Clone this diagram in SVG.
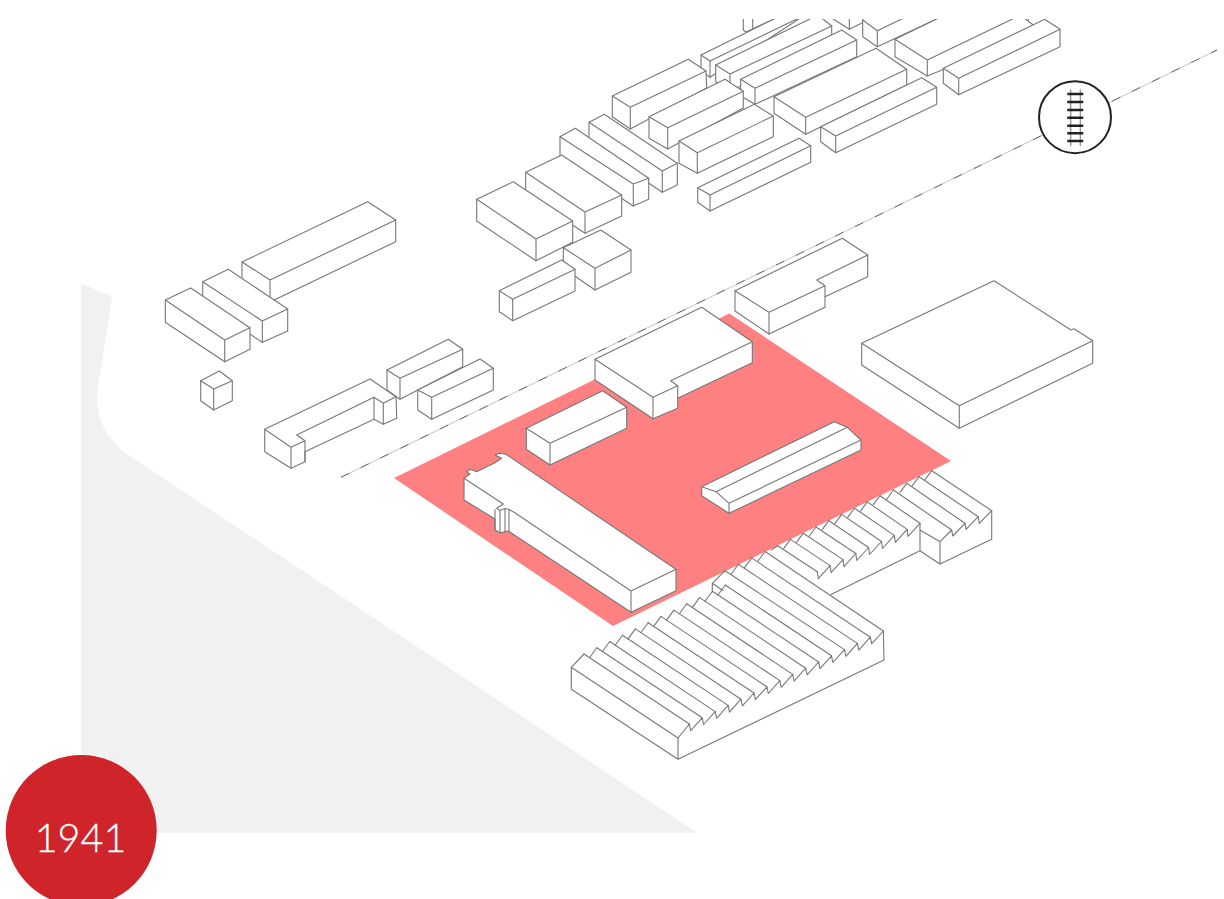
<svg xmlns="http://www.w3.org/2000/svg" width="1224" height="899" viewBox="0 0 1224 899">
<style>
.b polygon{fill:#fff;stroke:none}
.b path{fill:none;stroke:#777;stroke-width:1.1;stroke-linejoin:round;stroke-linecap:round}
.b polygon.o{stroke:#777;stroke-width:1.1;stroke-linejoin:round}
</style>
<rect width="1224" height="899" fill="#fff"/>
<path id="ground" d="M81,283.3 L112.3,296.7 L97.5,390 Q94,428 124,452 L697,832.7 L81,832.7 Z" fill="#f1f1f1"/>
<polygon id="site" points="394,478 729.3,313.5 951,461 613,626" fill="#ff8080"/>

<g id="connectors">
<line x1="341" y1="477.3" x2="1217" y2="50" stroke="#c4c4c4" stroke-width="1"/>
<line x1="341" y1="477.3" x2="1217" y2="50" stroke="#666" stroke-width="1" stroke-dasharray="9 13"/>
</g>

<g class="b">
<g id="stub-1"><polygon class="o" points="743.3,15 743.3,30 746,32 783,15"/><path d="M752.7,15V28"/></g>
<g id="stub-2"><polygon class="o" points="827,15 849.3,29.3 878,15"/><path d="M849.3,15V29.3"/></g>
<g id="stub-3"><path d="M1028.3,15V27"/></g>
<g id="top-b"><polygon class="o" points="862.7,15 862.7,36.7 877.3,46.7 945,15"/><path d="M862.7,20L877.3,30.7L910,15M877.3,30.7V46.7"/></g>
<g id="top-c"><polygon class="o" points="895,39.3 945,15 1020,15 1040,30 927.3,76 895,56.7"/><path d="M895,39.3L927.3,60L1021,15M927.3,60V76"/></g>
<g id="top-d"><polygon class="o" points="943.3,68.3 1044.7,19.3 1060,29.3 1060,46.7 958.7,94.7 943.3,83.3"/><path d="M943.3,68.3L958.7,78.3L1060,29.3M958.7,78.3V94.7"/></g>
<g id="top-e"><polygon class="o" points="701,55 782,15 805,15 710,77.3 701,70.7"/><path d="M701,55L710,61L805,15M710,61V77.3"/></g>
<g id="top-f"><polygon class="o" points="715.7,65 818,15 831.7,26 831.7,35 730,92 715.7,81.7"/><path d="M715.7,65L730,74L831.7,26M730,74V92"/></g>
<g id="top-g"><polygon class="o" points="740.7,79.3 841.7,30 856.7,40 856.7,56.7 755,104.3 740.7,96"/><path d="M740.7,79.3L755,88.3L856.7,40M755,88.3V104.3"/></g>
<g id="top-h"><polygon class="o" points="774,96.7 876,48.3 906.7,69.3 906.7,85 805.7,134.3 774,113.3"/><path d="M774,96.7L805.7,117.3L906.7,69.3M805.7,117.3V134.3"/></g>
<g id="top-i"><polygon class="o" points="820.7,126.7 921.7,77.7 936.7,87.3 936.7,104.3 835.7,152.7 820.7,141.7"/><path d="M820.7,126.7L835.7,136L936.7,87.3M835.7,136V152.7"/></g>
<g id="top-a"><polygon class="o" points="612.3,96 688.3,59.3 706,71 706.7,88 630.3,129 612.3,116.7"/><path d="M612.3,96L630.3,107.3L706,71M630.3,107.3V129"/></g>
<g id="top-j"><polygon class="o" points="649,116.7 725,79.3 743.3,91.3 743.3,108 667.7,149 649,138.3"/><path d="M649,116.7L667.7,127.7L743.3,91.3M667.7,127.7V149"/></g>
<g id="top-k"><polygon class="o" points="679,141 754.3,104.3 773.3,116 773.3,136.7 697.3,173.3 679,163.3"/><path d="M679,141L697.3,152.7L773.3,116M697.3,152.7V173.3"/></g>
<g id="top-l"><polygon class="o" points="697.7,187.7 799,138.3 810.7,145.7 810.7,162.3 710,211 697.7,202.3"/><path d="M697.7,187.7L710,195L810.7,145.7M710,195V211"/></g>
</g>
<rect x="690" y="0" width="400" height="19" fill="#fff"/>

<g class="b">
<g id="mid-p"><polygon class="o" points="589,122.3 604.3,114.3 677.3,163.3 677.3,185 662.3,192.3 589,143"/><path d="M589,122.3L662.3,171L677.3,163.3M662.3,171V192.3"/></g>
<g id="mid-o"><polygon class="o" points="560,136.7 575.3,128.3 648.7,178.3 648.7,199.3 633.3,206 560,158"/><path d="M560,136.7L633.3,184L648.7,178.3M633.3,184V206"/></g>
<g id="mid-n"><polygon class="o" points="525.7,172.3 561.7,155 621.7,195 621.7,216 585,233.3 525.7,194"/><path d="M525.7,172.3L585,212L621.7,195M585,212V233.3"/></g>
<g id="mid-m"><polygon class="o" points="476.7,199.3 513.3,181.7 572.7,221 572.7,242.3 536,260.7 476.7,221"/><path d="M476.7,199.3L536,239L572.7,221M536,239V260.7"/></g>
<g id="mid-q"><polygon class="o" points="563.3,247.7 600.7,230 631,250 631,272.3 595,290 563.3,268"/><path d="M563.3,247.7L595,268.3L631,250M595,268.3V290"/></g>
<g id="mid-r"><polygon class="o" points="499.3,290.7 561.7,260 575,269.3 575,291 512.7,320.7 499.3,311.7"/><path d="M499.3,290.7L512.7,299.3L575,269.3M512.7,299.3V320.7"/></g>

<g id="left-s"><polygon class="o" points="242,262 367.7,201.7 395.7,220 395.7,241.7 270,302 242,282"/><path d="M242,262L270,280L395.7,220M270,280V302"/></g>
<g id="left-t"><polygon class="o" points="202.7,281.7 228.3,269.3 287.7,309 287.7,331 262.3,342.3 202.7,303"/><path d="M202.7,281.7L262.3,321L287.7,309M262.3,321V342.3"/></g>
<g id="left-u"><polygon class="o" points="165.3,300 190.7,288 250,327.7 250,349.3 224.7,361.7 165.3,322.3"/><path d="M165.3,300L224.7,340L250,327.7M224.7,340V361.7"/></g>
<g id="left-cube"><polygon class="o" points="200.7,380.7 219.3,371 232.3,380.7 232.3,400.7 213.7,410 200.7,400.7"/><path d="M200.7,380.7L213.7,389L232.3,380.7M213.7,389V410"/></g>
<g id="left-v"><polygon class="o" points="387,370 448.3,339.3 462.7,349.3 462.7,366.7 400,399.3 387,390"/><path d="M387,370L400,378.3L462.7,349.3M400,378.3V399.3"/></g>
<g id="left-l"><polygon class="o" points="264.7,429.3 370,379 396,396.7 396.7,418.3 383.3,424.3 374,419.3 305,451.7 305,461.7 291,468.3 264.7,451.7"/><path d="M264.7,429.3L291,447.3L305,440.7L296.7,435L374,397.3L383.3,403.3L396,396.7M291,447.3V468.3M305,440.7V461.7M374,397.3V419.3M383.3,403.3V424.3"/></g>
<g id="left-w"><polygon class="o" points="417.7,390 480,359 493.3,368.3 493.3,390 431.7,419.3 417.7,410"/><path d="M417.7,390L431.7,397.3L493.3,368.3M431.7,397.3V419.3"/></g>

<g id="site-x"><polygon class="o" points="595,359.3 701.7,307.3 752.3,341.7 752.3,362.7 677.7,398.3 677.7,408.3 653,418.7 595,380"/><path d="M595,359.3L653,397.3L677.7,385.7L670.7,380.7L752.3,341.7M653,397.3V418.7M677.7,385.7V398.3"/></g>
<g id="site-y"><polygon class="o" points="526.3,428.3 602.7,390.7 626.7,407.3 626.7,428.3 550,465 526.3,449.3"/><path d="M526.3,428.3L550,443.3L626.7,407.3M550,443.3V465"/></g>
<g id="site-z"><polygon class="o" points="464,478.3 470,474 466.7,471.7 470.7,469.3 476.7,471.7 495,462.7 501.7,458.3 495,455 499.3,453.3 506,454.3 676,569.3 676,590.7 631,612.3 508.3,531 500,532.7 495,530 495,519 464,500"/><path d="M464,478.3L503.3,504L496.7,508.3L500,510.5L505,508.5L509,509.5L513.3,511.7L631,591L676,569.3M631,591V612.3M495,509.5V530M500,510.5V532.7M505,508.5V532M509,509.5V531"/></g>
<g id="site-aa"><polygon class="o" points="701.7,486.7 834.3,421.7 847.3,427.3 861,440 861,450 729,513.3 701.7,495.7"/><path d="M701.7,486.7L716,491.7L729,503.3L861,440M716,491.7L847.3,427.3M729,503.3V513.3"/></g>

<g id="east-bb"><polygon class="o" points="735,290.7 842.3,238.3 867.7,255 867.7,276.7 825,296.7 825,307.3 769,334 735,311"/><path d="M735,290.7L769,312.3L825,285.7L816.7,280L867.7,255M769,312.3V334M825,285.7V296.7"/></g>
<g id="east-cc"><polygon class="o" points="861.7,343.3 994,280.7 1071,330 1074,328.7 1092.7,340.7 1092.7,363.3 959.3,428.3 861.7,365"/><path d="M861.7,343.3L959.3,405.7L1092.7,340.7M959.3,405.7V428.3"/></g>

<g id="saw-upper">
<polygon points="777.7,545.7 790.5,539.4 803.3,533.2 816,527 828.9,520.7 841.7,514.4 854.5,508.2 867.3,501.9 880,495.7 886.6,499 893.3,490 899.9,492 906.7,483.3 912.3,485.7 919,476.7 925,479.7 931.7,470.7 991.7,510.7 991.7,539.3 940,564 920,550.7 830,595 760,590"/>
<path d="M831,594.5L920,550.7L940,564L991.7,539.3V510.7L979.3,523.3L978.3,516.7L966,529.3L965,523.3L952.7,536L951.7,530L940,541.7V564M920,523.3V550.7M920,530L940,541.7"/>
<path d="M817.3,571.7L818.3,578.7L830.1,565.6L831.1,572.6L843,559.6L844,566.6L855.8,553.5L856.8,560.5L868.6,547.5L869.6,554.5L881.5,541.5L882.5,548.5L894.3,535.4L895.3,542.4L907.1,529.4L908.1,536.4L920,523.3"/>
<path d="M777.7,545.7L817.3,571.7M790.5,539.4L830.1,565.6M803.3,533.2L843,559.6M816,527L855.8,553.5M828.9,520.7L868.6,547.5M841.7,514.4L881.5,541.5M854.5,508.2L894.3,535.4M867.3,501.9L907.1,529.4M880,495.7L920,523.3"/>
<path d="M893.3,490L951.7,530M906.7,483.3L965,523.3M919,476.7L978.3,516.7M931.7,470.7L991.7,510.7"/>
<path d="M771,550L777.7,545.7M783.8,548.4L790.5,539.4M796.6,542.2L803.3,533.2M809.3,536L816,527M822.2,529.7L828.9,520.7M835,523.4L841.7,514.4M847.8,517.2L854.5,508.2M860.6,510.9L867.3,501.9M873.3,504.7L880,495.7M886.6,499.5L893.3,490M900,492.3L906.7,483.3M912.3,485.7L919,476.7M925,479.7L931.7,470.7"/>
</g>

<g id="saw-lower">
<polygon points="571.3,667.3 584,654 589.5,657.7 596.8,647.7 602.4,651.5 609.7,641.5 615.2,645.2 622.5,635.2 628.1,638.9 635.4,628.9 640.9,632.7 648.2,622.7 653.7,626.4 661,616.4 666.6,620.1 673.9,610.1 679.4,613.8 686.7,603.8 692.3,607.6 699.6,597.6 705.1,601.3 712.3,592 712.3,583.3 725,570.7 731,574.3 738.3,564.3 744.4,567.9 751.7,557.9 757.7,561.5 765,551.5 883.3,631 884,660 678,759.3 571.3,689.3"/>
<path d="M571.3,667.3V689.3L678,759.3L884,660L883.3,631M571.3,667.3L678,738V759.3M571.3,667.3L584,654"/>
<path d="M678,738L689.3,724L690.7,730.7L702.2,717.8L703.6,724.5L715.2,711.6L716.6,718.3L728.1,705.4L729.5,712.1L741,699.2L742.4,705.9L754,693L755.4,699.7L766.9,686.8L768.3,693.5L779.8,680.6L781.2,687.3L792.7,674.4L794.1,681.1L805.7,668.2L807.1,674.9L818.6,662L820,668.7L831.5,655.8L832.9,662.5L844.5,649.6L845.9,656.3L857.4,643.4L858.8,650.1L870.3,637.2L871.7,643.9L883.3,631"/>
<path d="M584,654L689.3,724M596.8,647.7L702.2,717.8M609.7,641.5L715.2,711.6M622.5,635.2L728.1,705.4M635.4,628.9L741,699.2M648.2,622.7L754,693M661,616.4L766.9,686.8M673.9,610.1L779.8,680.6M686.7,603.8L792.7,674.4M699.6,597.6L805.7,668.2M712.4,591.3L818.6,662M725.2,585L831.5,655.8M725,570.7L844.5,649.6M738.3,564.3L857.4,643.4M751.7,557.9L870.3,637.2M765,551.5L883.3,631"/>
<path d="M589.5,657.7L596.8,647.7M602.4,651.5L609.7,641.5M615.2,645.2L622.5,635.2M628.1,638.9L635.4,628.9M640.9,632.7L648.2,622.7M653.7,626.4L661,616.4M666.6,620.1L673.9,610.1M679.4,613.8L686.7,603.8M692.3,607.6L699.6,597.6M705.1,601.3L712.4,591.3M717.9,595L725.2,585M712.3,592V583.3L725,570.7M712.3,583.3L723,590.5M731,574.3L738.3,564.3M744.4,567.9L751.7,557.9M757.7,561.5L765,551.5"/>
</g>
</g>

<g id="rail-icon">
<circle cx="1075" cy="117.2" r="36" fill="#fff" stroke="#222" stroke-width="2"/>
<path d="M1070.7,89.5V146M1080.3,89.5V146" fill="none" stroke="#888" stroke-width="1.2"/>
<path d="M1067.3,94H1083.3M1067.3,102H1083.3M1067.3,110H1083.3M1067.3,117.7H1083.3M1067.3,125.7H1083.3M1067.3,133.3H1083.3M1067.3,141H1083.3" fill="none" stroke="#222" stroke-width="2.6"/>
</g>

<g id="year">
<circle cx="81.2" cy="830.5" r="75.5" fill="#d0242b"/>
<text x="80.5" y="851.7" text-anchor="middle" font-family="Lato, 'Open Sans', sans-serif" font-weight="300" font-size="39.5" fill="#fff" stroke="#fff" stroke-width="0.3">1941</text>
</g>
</svg>
